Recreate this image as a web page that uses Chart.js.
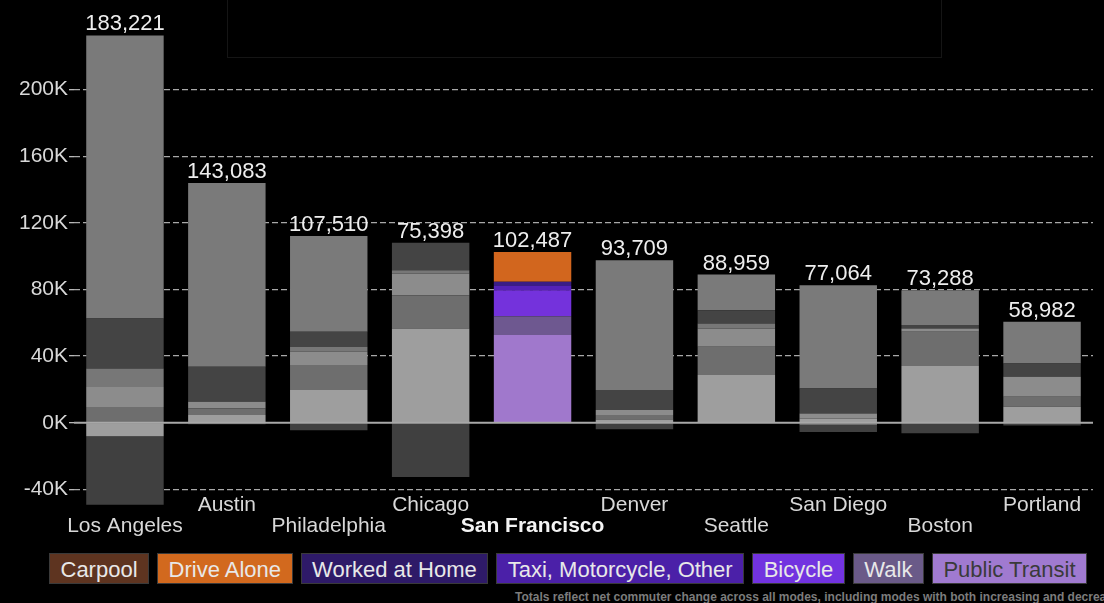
<!DOCTYPE html>
<html>
<head>
<meta charset="utf-8">
<script src="https://cdn.jsdelivr.net/npm/chart.js@4.4.1/dist/chart.umd.min.js"></script>
<style>
  body { margin: 0; background: #000; width: 1104px; height: 603px; overflow: hidden; position: relative;
         font-family: 'Liberation Sans', Arial, sans-serif; }
  #wrap { position: absolute; left: 0; top: 0; width: 1104px; height: 545px; }
  #frame { position: absolute; left: 227px; top: -1px; width: 713px; height: 57px; border: 1px solid #151515; }
  #legend { position: absolute; left: 49px; top: 553px; display: flex; gap: 8px; }
  #legend span { display: block; height: 31px; line-height: 31px; padding: 0 10.5px; font-size: 22px;
                 color: #e8e8e8; border: 1px solid #3a3a3a; box-sizing: border-box; white-space: nowrap; }
  #note { position: absolute; left: 515px; top: 590px; font-size: 12px; font-weight: bold; color: #7c7c7c; white-space: nowrap; }
</style>
</head>
<body>
<div id="frame"></div>
<div id="wrap"><canvas id="commuteChart"></canvas></div>
<div id="legend"></div>
<div id="note">Totals reflect net commuter change across all modes, including modes with both increasing and decreasing numbers.</div>
<script>
// net change in commuters by mode, per city
const cities = ['Los Angeles', 'Austin', 'Philadelphia', 'Chicago', 'San Francisco',
                'Denver', 'Seattle', 'San Diego', 'Boston', 'Portland'];
const publicTransit = [-8200, 4600, 19600, 56600, 52600, 2000, 28600, 2600, 34000, 9600];
const walk          = [9500, 4000, 15000, 20000, 11400, 2600, 17000, -1500, 20600, 6000];
const bicycle       = [12000, 4000, 8000, 13000, 15600, 3000, 11000, 3000, 2000, 12000];
const taxiOther     = [11000, 0, 3000, 2000, 2500, 0, 3000, 0, 0, 0];
const workedAtHome  = [30000, 21000, 9000, 16400, 2500, 12000, 8000, 15000, 2000, 8000];
const driveAlone    = [170000, 110400, 57500, 0, 17887, 78000, 21359, 62000, 21000, 25000];
const carpool       = [-41079, -917, -4590, -32602, 0, -3891, 0, -4036, -6312, -1618];
const yTicks = [-40000, 0, 40000, 80000, 120000, 160000, 200000];
const highlight = 'San Francisco';

// stacking order bottom -> top; legend shows them reversed
const modes = [
  { label: 'Public Transit', data: publicTransit, color: '#a078cc', grey: '#9e9e9e', chip: '#a07ad0', text: '#3a3a3a' },
  { label: 'Walk', data: walk, color: '#6e5890', grey: '#6e6e6e', chip: '#6a5a88' },
  { label: 'Bicycle', data: bicycle, color: '#7432dc', grey: '#8c8c8c', chip: '#7233e0' },
  { label: 'Taxi, Motorcycle, Other', data: taxiOther, color: '#5422b8', grey: '#777777', chip: '#4b20a8' },
  { label: 'Worked at Home', data: workedAtHome, color: '#3a1d86', grey: '#444444', chip: '#2e1a68' },
  { label: 'Drive Alone', data: driveAlone, color: '#d2661e', grey: '#7a7a7a', chip: '#d2691e' },
  { label: 'Carpool', data: carpool, color: '#6a3a20', grey: '#404040', chip: '#5e3420' }
];

const legendEl = document.getElementById('legend');
modes.slice().reverse().forEach(m => {
  const s = document.createElement('span');
  s.textContent = m.label;
  s.style.background = m.chip;
  if (m.text) s.style.color = m.text;
  legendEl.appendChild(s);
});

const FONT = "'Liberation Sans', Arial, sans-serif";

// solid zero line over the bars
const zeroLine = {
  id: 'zeroLine',
  afterDatasetsDraw(chart) {
    const { ctx, chartArea } = chart;
    const y = chart.scales.y.getPixelForValue(0);
    ctx.save();
    ctx.strokeStyle = '#a8a8a8';
    ctx.lineWidth = 2;
    ctx.beginPath();
    ctx.moveTo(chartArea.left, y);
    ctx.lineTo(chartArea.right, y);
    ctx.stroke();
    ctx.restore();
  }
};

// net total above the positive stack of each bar
const totals = {
  id: 'totals',
  afterDatasetsDraw(chart) {
    const { ctx } = chart;
    ctx.save();
    ctx.font = '22px ' + FONT;
    ctx.fillStyle = '#eeeeee';
    ctx.textAlign = 'center';
    ctx.textBaseline = 'alphabetic';
    cities.forEach((c, i) => {
      let pos = 0, net = 0;
      modes.forEach(m => { net += m.data[i]; if (m.data[i] > 0) pos += m.data[i]; });
      const x = chart.scales.x.getPixelForValue(i);
      const y = chart.scales.y.getPixelForValue(pos);
      ctx.fillText(net.toLocaleString('en-US'), x, y - 5);
    });
    ctx.restore();
  }
};

new Chart(document.getElementById('commuteChart'), {
  type: 'bar',
  data: {
    labels: cities,
    datasets: modes.map(m => ({
      label: m.label,
      data: m.data,
      backgroundColor: cities.map(c => c === highlight ? m.color : m.grey),
      borderWidth: 0,
      clip: false
    }))
  },
  options: {
    responsive: true,
    maintainAspectRatio: false,
    devicePixelRatio: 1,
    animation: false,
    layout: { padding: { top: 23, right: 11, left: 0, bottom: 0 } },
    datasets: { bar: { categoryPercentage: 1, barPercentage: 0.76 } },
    plugins: { legend: { display: false }, tooltip: { enabled: false } },
    scales: {
      x: {
        stacked: true,
        afterFit(s) { s.height = 53; },
        grid: { display: false, drawTicks: false },
        border: { display: false },
        ticks: {
          autoSkip: false,
          maxRotation: 0,
          padding: 2,
          callback: (v, i) => i % 2 ? [cities[i]] : ['', cities[i]],
          color: c => cities[c.index] === highlight ? '#f4f4f4' : '#d8d8d8',
          font: c => ({ family: FONT, size: 21, lineHeight: 1.024,
                        weight: cities[c.index] === highlight ? 'bold' : 'normal' })
        }
      },
      y: {
        stacked: true,
        min: -41600,
        max: 240000,
        afterFit(s) { s.width = 74; },
        afterBuildTicks(s) { s.ticks = yTicks.map(v => ({ value: v })); },
        grid: {
          color: c => c.tick && c.tick.value === 0 ? 'rgba(0,0,0,0)' : '#a8a8a8',
          lineWidth: 1.3,
          tickLength: 5,
          tickColor: '#b8b8b8',
          tickWidth: 1.3
        },
        border: { display: false, dash: [6, 3] },
        ticks: {
          padding: 1,
          color: '#d8d8d8',
          font: { family: FONT, size: 21 },
          callback: v => (v / 1000) + 'K'
        }
      }
    }
  },
  plugins: [zeroLine, totals]
});
</script>
</body>
</html>
